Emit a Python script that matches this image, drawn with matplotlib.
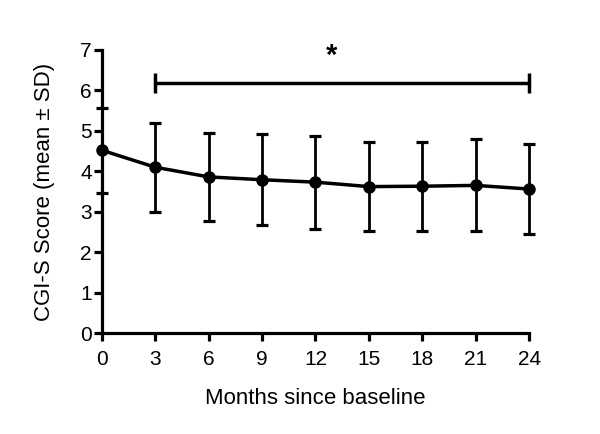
import matplotlib
matplotlib.use("Agg")
import matplotlib.pyplot as plt

plt.rcParams['font.family'] = ['Liberation Sans', 'DejaVu Sans']

# CGI-S score over time
months = [0, 3, 6, 9, 12, 15, 18, 21, 24]
mean_score = [4.52, 4.10, 3.86, 3.79, 3.73, 3.62, 3.63, 3.65, 3.56]
sd_score = [1.05, 1.10, 1.09, 1.13, 1.15, 1.11, 1.10, 1.14, 1.11]

# significance bracket
sig_start, sig_end, sig_y = 3, 24, 6.18
sig_label = "*"

fig = plt.figure(figsize=(6.0, 4.34), dpi=100)
ax = fig.add_axes([0.1695, 0.2327, 0.7125, 0.6523])

ax.errorbar(months, mean_score, yerr=sd_score, color='black', lw=2.5,
            marker='o', ms=8, capsize=4.5, capthick=2.3, elinewidth=2.0,
            clip_on=False, zorder=3)

# bracket with end caps
ax.plot([sig_start, sig_end], [sig_y, sig_y], color='black', lw=2.5,
        solid_capstyle='butt', clip_on=False)
for xv in (sig_start, sig_end):
    ax.plot([xv, xv], [sig_y - 0.25, sig_y + 0.25], color='black', lw=2.5,
            solid_capstyle='butt', clip_on=False)
ax.text(12.9, 6.85, sig_label, ha='center', va='center', fontsize=21,
        fontweight='bold')

ax.set_xlim(0, 24)
ax.set_ylim(0, 7)
ax.set_xticks(months)
ax.set_yticks(range(0, 8))

for side in ('top', 'right'):
    ax.spines[side].set_visible(False)
for side in ('left', 'bottom'):
    ax.spines[side].set_linewidth(2.3)

ax.tick_params(width=2.3, length=6, labelsize=15)
ax.tick_params(axis='x', pad=6)
ax.tick_params(axis='y', pad=1)
ax.set_xlabel('Months since baseline', fontsize=16, labelpad=14)
ax.set_ylabel('CGI-S Score (mean \u00b1 SD)', fontsize=16, labelpad=18)

fig.savefig('out.png', dpi=100)
